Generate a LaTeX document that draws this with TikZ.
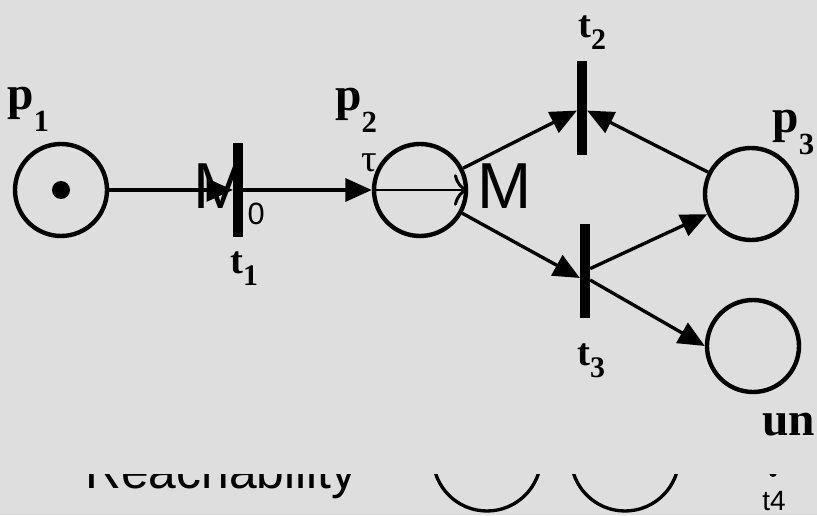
\documentclass[tikz,border=0pt]{standalone}
\usepackage{fontspec}
\setmainfont{Liberation Serif}
\newfontfamily\arialfont{Liberation Sans}
\usepackage{tikz}
\usetikzlibrary{arrows.meta,calc,positioning}
\definecolor{slidegray}{RGB}{222,222,222}

% place and transition labels with dropped index
\newcommand{\plab}[2]{{\bfseries\fontsize{27pt}{27pt}\selectfont #1}%
\raisebox{-12pt}{\bfseries\fontsize{17.5pt}{17.5pt}\selectfont #2}}
\newcommand{\tlab}[2]{{\bfseries\fontsize{22pt}{22pt}\selectfont #1}%
\raisebox{-7pt}{\bfseries\fontsize{17pt}{17pt}\selectfont #2}}

\begin{document}
\begin{tikzpicture}[scale=1,
place/.style={circle,draw,line width=2.5pt,minimum size=1.84cm,inner sep=0pt},
bar/.style={rectangle,fill=black,minimum width=0.19cm,minimum height=1.88cm,inner sep=0pt},
arc/.style={line width=1.9pt,-{Triangle[length=15pt,width=13pt]}},
lab/.style={anchor=base west,inner sep=0pt}]

\useasboundingbox (0,0) rectangle (16.34,10.30);
\fill[slidegray] (0,0) rectangle (16.34,10.30);

% overlaid reachability text
\node[lab,font=\arialfont\fontsize{37pt}{37pt}\selectfont] (m0) at (3.86,6.14)
{M{\fontsize{17.5pt}{17.5pt}\selectfont\raisebox{-9.6pt}{0}}};
\node[lab,font=\arialfont\fontsize{37pt}{37pt}\selectfont] (m1) at (9.54,6.14) {M};
\node[anchor=base,inner sep=0pt,font=\fontsize{22pt}{22pt}\selectfont] (tau) at (7.38,6.86) {τ};

% places
\node[place] (p1) at (1.22,6.50) {};
\fill (p1) circle (0.18);
\node[place] (p2) at (8.40,6.50) {};
\node[place] (p3) at (15.02,6.42) {};
\node[place] (un) at (15.06,3.38) {};

% transitions
\node[bar] (t1) at (4.76,6.50) {};
\node[bar] (t2) at (11.64,8.14) {};
\node[bar] (t3) at (11.70,4.88) {};

% labels
\node[lab] (p1lab) at (0.14,8.10) {\plab{p}{1}};
\node[lab] (p2lab) at (6.70,8.08) {\plab{p}{2}};
\node[lab] (p3lab) at (15.44,7.64) {\plab{p}{3}};
\node[lab,font=\bfseries\fontsize{27pt}{27pt}\selectfont] (unlab) at (15.24,1.60) {un};
\node[lab] (t1lab) at (4.60,4.84) {\tlab{t}{1}};
\node[lab] (t2lab) at (11.56,9.55) {\tlab{t}{2}};
\node[lab] (t3lab) at (11.54,3.00) {\tlab{t}{3}};

% arcs
\draw[arc] (p1) -- (t1);
\draw[arc] (t1) -- (p2);
\draw[arc] (p2) -- (t2);
\draw[arc] (p3) -- (t2);
\draw[arc] (p2) -- ($(t3.west)+(0,-0.14)$);
\draw[arc] (t3) -- (p3);
\draw[arc] ($(t3.east)+(0,-0.18)$) -- (un.west);

% step arrow M0 -> M
\draw[line width=1.7pt,-{To[length=8pt,width=18pt]},shorten >=0.18cm]
(p2.west) -- (p2.west -| m1.west);

% cut-off bottom part
\begin{scope}
\clip (0,0) rectangle (16.34,0.82);
\node[lab,font=\arialfont\fontsize{28.3pt}{28.3pt}\selectfont] (reach) at (1.70,0.54) {Reachability};
\draw[line width=1.9pt] (9.74,1.16) circle (1.08);
\draw[line width=1.9pt] (12.50,1.16) circle (1.08);
\fill (15.46,0.84) circle (0.08);
\end{scope}
\node[lab,font=\arialfont\fontsize{15.9pt}{15.9pt}\selectfont] (t4) at (15.24,0.09) {t4};

\end{tikzpicture}
\end{document}
